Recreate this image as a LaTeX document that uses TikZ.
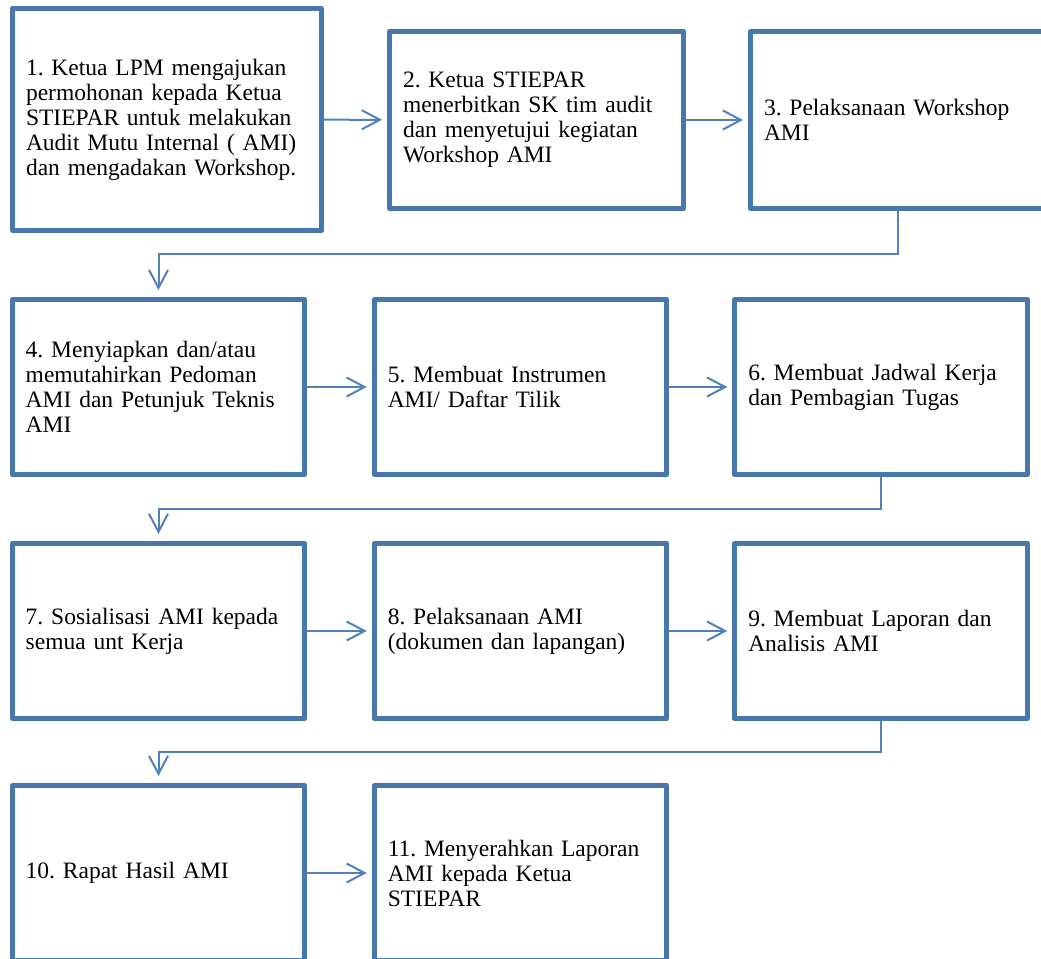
\documentclass[tikz,border=0pt]{standalone}
\usepackage{fontspec}
\setmainfont{Liberation Serif}
\usetikzlibrary{arrows.meta,calc}

\definecolor{boxblue}{HTML}{4A76AE}
\definecolor{lineblue}{HTML}{4F81BD}
\frenchspacing

\begin{document}
\begin{tikzpicture}[x=0.5pt, y=0.5pt,
    box/.style={draw=boxblue, line width=2.5pt, line join=round, inner xsep=6.75pt, inner ysep=0pt,
        align=left, font=\fontsize{11.75pt}{12.5pt}\selectfont},
    bigbox/.style={box, minimum width=154.5pt, minimum height=111pt, text width=141pt},
    topbox/.style={box, minimum width=147pt, minimum height=88.5pt, text width=133.5pt},
    rowbox/.style={box, minimum width=146.25pt, minimum height=87.5pt, text width=132.75pt},
    link/.style={draw=lineblue, line width=1pt, -{Straight Barb[length=9pt, width=9.5pt]}, shorten >=2.5pt},
    drop/.style={link, shorten >=3.5pt}]
    \useasboundingbox (0,0) rectangle (1041,-959);
    \clip (0,0) rectangle (1041,-959);

    % first row
    \node[bigbox] (b1) at (167,-119.5) {1. Ketua LPM mengajukan\\ permohonan kepada Ketua\\ STIEPAR untuk melakukan\\ Audit Mutu Internal ( AMI)\\ dan mengadakan Workshop.};
    \node[topbox] (b2) at (536.5,-120) {2. Ketua STIEPAR\\ menerbitkan SK tim audit\\ dan menyetujui kegiatan\\ Workshop AMI};
    \node[topbox] (b3) at (897.5,-120) {3. Pelaksanaan Workshop\\ AMI};

    % second row
    \node[rowbox] (b4) at (158.5,-387) {4. Menyiapkan dan/atau\\ memutahirkan Pedoman\\ AMI dan Petunjuk Teknis\\ AMI};
    \node[rowbox] (b5) at (520.5,-387) {5. Membuat Instrumen\\ AMI/ Daftar Tilik};
    \node[rowbox] (b6) at (881,-387) {6. Membuat Jadwal Kerja\\ dan Pembagian Tugas};

    % third row
    \node[rowbox] (b7) at (158.5,-631) {7. Sosialisasi AMI kepada\\ semua unt Kerja};
    \node[rowbox] (b8) at (520.5,-631) {8. Pelaksanaan AMI\\ (dokumen dan lapangan)};
    \node[rowbox] (b9) at (881,-631) {9. Membuat Laporan dan\\ Analisis AMI};

    % last row
    \node[rowbox] (b10) at (158.5,-873) {10. Rapat Hasil AMI};
    \node[rowbox] (b11) at (520.5,-873) {11. Menyerahkan Laporan\\ AMI kepada Ketua\\ STIEPAR};

    \draw[link] (b1) -- (b2);
    \draw[link] (b2) -- (b3);
    \draw[drop] (b3.south) |- ($(b3.south)!.5!(b4.north)$) -| (b4.north);
    \draw[link] (b4) -- (b5);
    \draw[link] (b5) -- (b6);
    \draw[drop] (b6.south) |- ($(b6.south)!.5!(b7.north)$) -| (b7.north);
    \draw[link] (b7) -- (b8);
    \draw[link] (b8) -- (b9);
    \draw[drop] (b9.south) |- ($(b9.south)!.5!(b10.north)$) -| (b10.north);
    \draw[link] (b10) -- (b11);
\end{tikzpicture}
\end{document}
